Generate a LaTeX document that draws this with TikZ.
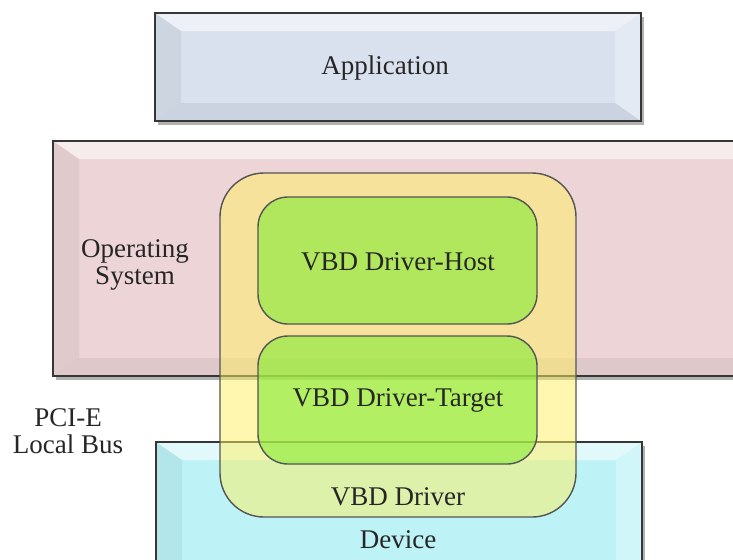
\documentclass[tikz,border=0pt]{standalone}
\usepackage{fontspec}
\setmainfont{Liberation Serif}
\usetikzlibrary{positioning,calc}
\definecolor{appfill}{HTML}{D9E1EE}
\definecolor{osfill}{HTML}{EDD5D7}
\definecolor{devfill}{HTML}{BDF3F7}
\definecolor{drvfill}{HTML}{FFF060}
\definecolor{vbdgreen}{HTML}{8CEB3C}
\definecolor{edge}{HTML}{363636}
\tikzset{
  layer/.style  = {draw=edge, line width=1.3pt},
  drvbox/.style = {draw=edge!85, line width=0.7pt, rounded corners=22pt,
                   fill=drvfill, fill opacity=0.5},
  vbdbox/.style = {draw=edge!85, line width=0.7pt, rounded corners=15pt,
                   fill=vbdgreen, fill opacity=0.66},
  lbl/.style    = {font=\fontsize{13.5}{13.5}\selectfont, align=center,
                   text=black!85},
}
% bevelled layer box: x1,y1,x2,y2,colour
\newcommand{\bevelbox}[5]{%
  \fill[black!30] (#1+3,#2+4) rectangle (#3+3,#4+4);
  \fill[#5] (#1,#2) rectangle (#3,#4);
  \fill[white, opacity=0.55] (#1,#2) -- (#3,#2) -- (#3-26,#2+18)
       -- (#1+26,#2+18) -- cycle;
  \fill[black, opacity=0.05] (#1,#2) -- (#1+26,#2+18) -- (#1+26,#4-18)
       -- (#1,#4) -- cycle;
  \fill[white, opacity=0.3] (#3,#2) -- (#3-26,#2+18) -- (#3-26,#4-18)
       -- (#3,#4) -- cycle;
  \fill[black, opacity=0.06] (#1,#4) -- (#1+26,#4-18) -- (#3-26,#4-18)
       -- (#3,#4) -- cycle;
  \draw[layer] (#1,#2) rectangle (#3,#4);}

\begin{document}
\begin{tikzpicture}[x=0.5pt, y=-0.5pt]
\useasboundingbox (0,0) rectangle (733,559);
\clip (0,0) rectangle (733,559);
% ---------------- layers ----------------
\bevelbox{155}{13}{641}{121}{appfill}
\node[lbl] (app) at (385,68) {Application};
\bevelbox{53}{141}{760}{376}{osfill}
\node[lbl] (os) at (135,265) {Operating\\System};
\bevelbox{156}{442}{642}{600}{devfill}
\node[lbl] (dev) at (398,540) {Device};
\node[lbl] (bus) at (68,431) {PCI-E\\Local Bus};
% ---------------- VBD driver ----------------
\draw[drvbox] (220,173) rectangle (576,517);
\node[lbl] (drv) at (398,497) {VBD Driver};
\draw[vbdbox] (258,197) rectangle (537,324);
\node[lbl] (host) at (398,262) {VBD Driver-Host};
\draw[vbdbox] (258,336) rectangle (537,464);
\node[lbl] (target) at (398,400) {VBD Driver-Target};
\end{tikzpicture}
\end{document}
